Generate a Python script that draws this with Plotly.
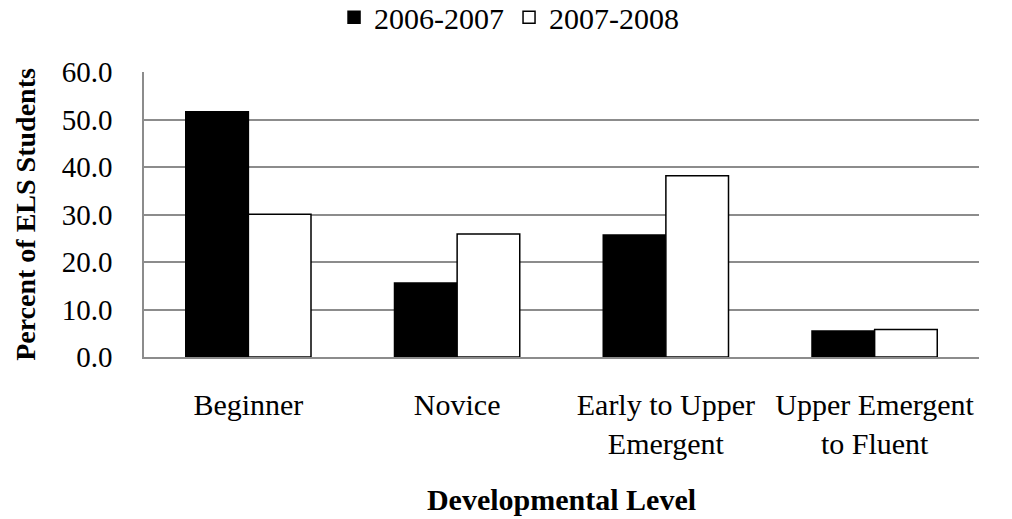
import plotly.graph_objects as go

categories = ["Beginner", "Novice", "Early to Upper<br>Emergent", "Upper Emergent<br>to Fluent"]
series_names = ["2006-2007", "2007-2008"]
vals_2006 = [51.7, 15.6, 25.7, 5.5]
vals_2007 = [30.1, 25.9, 38.2, 5.8]
y_ticks = [0, 10, 20, 30, 40, 50, 60]
y_tick_labels = ["0.0", "10.0", "20.0", "30.0", "40.0", "50.0", "60.0"]

font_family = "Liberation Serif, Times New Roman, serif"

fig = go.Figure()
fig.add_trace(go.Bar(x=categories, y=vals_2006, name=series_names[0],
                     marker=dict(color="black", line=dict(color="black", width=1.5))))
fig.add_trace(go.Bar(x=categories, y=vals_2007, name=series_names[1],
                     marker=dict(color="white", line=dict(color="black", width=1.5))))

fig.update_layout(
    width=1012, height=519,
    margin=dict(l=144, r=33, t=72, b=162),
    paper_bgcolor="white", plot_bgcolor="white",
    barmode="group", bargap=0.4, bargroupgap=0,
    font=dict(family=font_family, size=29, color="black"),
    legend=dict(orientation="h", x=0.503, xanchor="center", xref="container",
                y=0.967, yanchor="middle", yref="container",
                font=dict(size=30), itemwidth=30, traceorder="normal"),
    showlegend=True,
)

fig.update_yaxes(range=[0, 60.05], tickvals=y_ticks, ticktext=y_tick_labels,
                 showgrid=True, gridcolor="#8c8c8c", gridwidth=1.5,
                 showline=True, linecolor="#8c8c8c", linewidth=1.5,
                 zeroline=False, ticks="", ticklabelstandoff=24, automargin=False,
                 title=dict(text="<b>Percent of ELS Students</b>", font=dict(size=28), standoff=18))
fig.update_xaxes(showline=True, linecolor="#8c8c8c", linewidth=1.5, ticks="",
                 showgrid=False, tickangle=0, ticklabelstandoff=20, automargin=False,
                 tickfont=dict(size=30),
                 title=dict(text="<b>Developmental Level</b>", font=dict(size=30), standoff=30))

fig.write_html("out.html", config={"displayModeBar": False},
               post_script="document.body.style.margin='0';document.body.style.overflow='hidden';")
